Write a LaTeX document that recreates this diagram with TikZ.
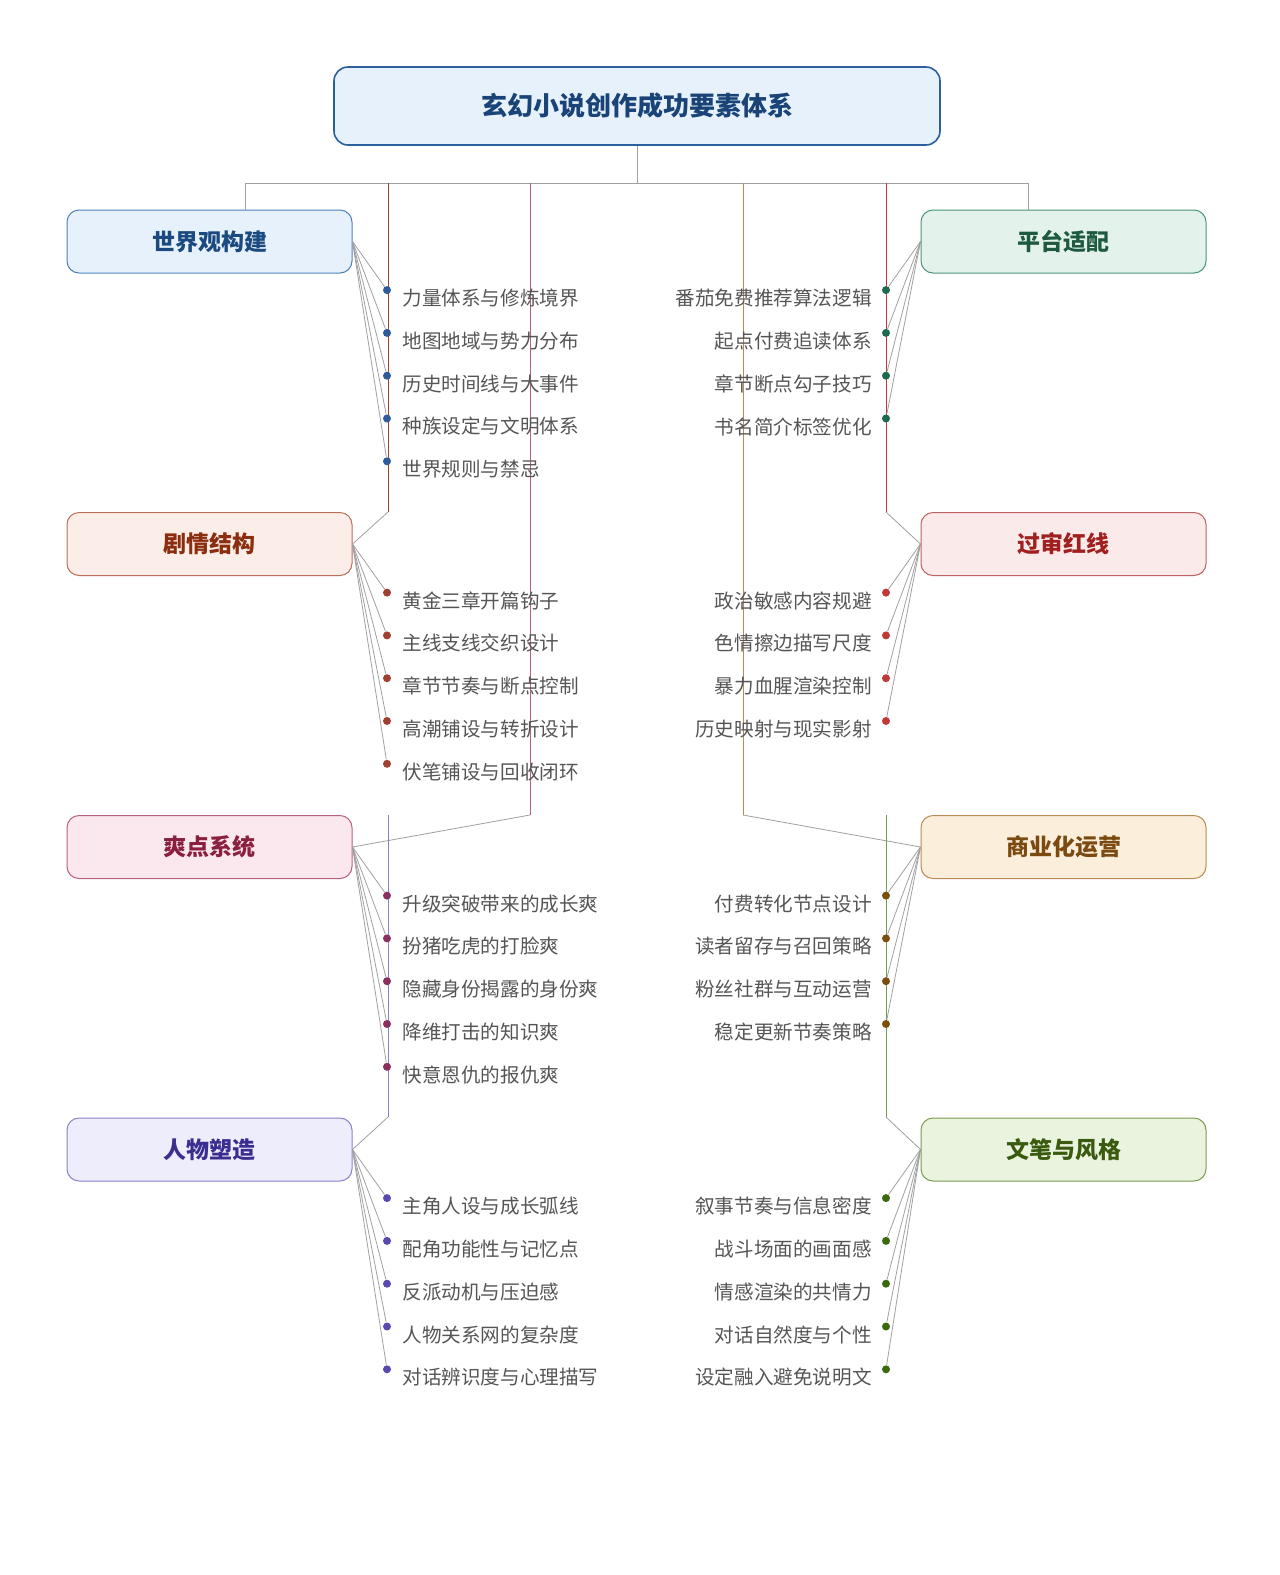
\documentclass[tikz,border=0pt]{standalone}
\usepackage{fontspec}
\setmainfont{Noto Sans CJK SC}
\usetikzlibrary{positioning}
\definecolor{lnk}{HTML}{A0A0A0}
\definecolor{txt}{HTML}{555555}
\definecolor{rootfill}{HTML}{E6F1FB}
\definecolor{rootdraw}{HTML}{2B5F9E}
\definecolor{roottext}{HTML}{1A4478}
% category colours: fill, draw, text, dot
\definecolor{aF}{HTML}{E6F1FB}\definecolor{aD}{HTML}{4F80B8}\definecolor{aT}{HTML}{1A4A80}\definecolor{aP}{HTML}{2E5C9A}
\definecolor{bF}{HTML}{E3F3EC}\definecolor{bD}{HTML}{4A9477}\definecolor{bT}{HTML}{1E5A40}\definecolor{bP}{HTML}{1E6A50}
\definecolor{cF}{HTML}{FBEEE8}\definecolor{cD}{HTML}{B8705A}\definecolor{cT}{HTML}{8B2E10}\definecolor{cP}{HTML}{A04030}
\definecolor{dF}{HTML}{FBEAEA}\definecolor{dD}{HTML}{C06060}\definecolor{dT}{HTML}{A02020}\definecolor{dP}{HTML}{C03A3A}
\definecolor{eF}{HTML}{FBE8EE}\definecolor{eD}{HTML}{B86080}\definecolor{eT}{HTML}{8A2040}\definecolor{eP}{HTML}{8A3060}
\definecolor{fF}{HTML}{FBEEDB}\definecolor{fD}{HTML}{B88A55}\definecolor{fT}{HTML}{7A4A10}\definecolor{fP}{HTML}{7A5010}
\definecolor{gF}{HTML}{EEEDFB}\definecolor{gD}{HTML}{8A80C8}\definecolor{gT}{HTML}{3A2E90}\definecolor{gP}{HTML}{5A4AB0}
\definecolor{hF}{HTML}{EAF3DE}\definecolor{hD}{HTML}{7A9A50}\definecolor{hT}{HTML}{3A5A10}\definecolor{hP}{HTML}{3A6A10}
\begin{document}
\begin{tikzpicture}[
  x=0.5pt, y=-0.5pt,
  root/.style = {
    draw = rootdraw,
    fill = rootfill,
    text = roottext,
    rectangle,
    rounded corners = 7pt,
    line width = 0.8pt,
    minimum width = 303pt,
    minimum height = 39pt,
    font = \fontsize{13}{15}\selectfont\bfseries,
  },
  cat/.style = {
    draw = #1D,
    fill = #1F,
    text = #1T,
    rectangle,
    rounded corners = 6pt,
    line width = 0.5pt,
    minimum width = 142.5pt,
    minimum height = 31.5pt,
    font = \fontsize{11.5}{13}\selectfont\bfseries,
  },
  dot/.style = {
    circle,
    fill = #1,
    inner sep = 0pt,
    minimum size = 4pt,
  },
  leaf/.style = {
    text = txt,
    inner sep = 0pt,
    font = \fontsize{9.8}{11}\selectfont,
  },
  link/.style = {
    draw = lnk,
    line width = 0.4pt,
  },
  trunk/.style = {
    draw = #1,
    line width = 0.5pt,
  },
]

  \useasboundingbox (0,0) rectangle (1280,1575);

  \node[root] (r) at (637,106) {玄幻小说创作成功要素体系};

  \node[cat=a] (ca) at (209.5,241.5) {世界观构建};
  \node[cat=b] (cb) at (1063.5,241.5) {平台适配};
  \node[cat=c] (cc) at (209.5,544) {剧情结构};
  \node[cat=d] (cd) at (1063.5,544) {过审红线};
  \node[cat=e] (ce) at (209.5,847) {爽点系统};
  \node[cat=f] (cf) at (1063.5,847) {商业化运营};
  \node[cat=g] (cg) at (209.5,1149.5) {人物塑造};
  \node[cat=h] (ch) at (1063.5,1149.5) {文笔与风格};

  % branch points
  \coordinate (j) at (637,183);
  \coordinate (ja) at (245,183);
  \coordinate (jb) at (1028,183);
  \coordinate (jc) at (388,183);
  \coordinate (kc) at (388,512);
  \coordinate (je) at (530,183);
  \coordinate (ke) at (530,815);
  \coordinate (jf) at (743,183);
  \coordinate (kf) at (743,815);
  \coordinate (jd) at (886,183);
  \coordinate (kd) at (886,512);
  \coordinate (jg) at (388,815);
  \coordinate (kg) at (388,1117);
  \coordinate (jh) at (886,815);
  \coordinate (kh) at (886,1117);

  \draw[link] (r.south) -- (j);
  \draw[link] (ja) -- (jb);
  \draw[link] (ja) -- (ja |- ca.north);
  \draw[link] (jb) -- (jb |- cb.north);
  \draw[trunk=cP] (jc) -- (kc);
  \draw[link] (kc) -- (cc.east);
  \draw[trunk=dP] (jd) -- (kd);
  \draw[link] (kd) -- (cd.west);
  \draw[trunk=eD] (je) -- (ke);
  \draw[link] (ke) -- (ce.east);
  \draw[trunk=fD] (jf) -- (kf);
  \draw[link] (kf) -- (cf.west);
  \draw[trunk=gD] (jg) -- (kg);
  \draw[link] (kg) -- (cg.east);
  \draw[trunk=hD] (jh) -- (kh);
  \draw[link] (kh) -- (ch.west);

  % left leaves
  \foreach \c/\y/\list in {a/241.5/{力量体系与修炼境界,地图地域与势力分布,历史时间线与大事件,种族设定与文明体系,世界规则与禁忌},
                           c/544/{黄金三章开篇钩子,主线支线交织设计,章节节奏与断点控制,高潮铺设与转折设计,伏笔铺设与回收闭环},
                           e/847/{升级突破带来的成长爽,扮猪吃虎的打脸爽,隐藏身份揭露的身份爽,降维打击的知识爽,快意恩仇的报仇爽},
                           g/1149.5/{主角人设与成长弧线,配角功能性与记忆点,反派动机与压迫感,人物关系网的复杂度,对话辨识度与心理描写}}{
    \foreach \t [count=\i] in \list {
      \node[dot=\c P] (p\c\i) at (387,\y+5.8+42.8*\i) {};
      \node[leaf,anchor=west] (l\c\i) at (402,\y+13.8+42.8*\i) {\t};
      \draw[link] (c\c.east) -- (p\c\i);
    }
  }

  % right leaves
  \foreach \c/\y/\list in {b/241.5/{番茄免费推荐算法逻辑,起点付费追读体系,章节断点勾子技巧,书名简介标签优化},
                           d/544/{政治敏感内容规避,色情擦边描写尺度,暴力血腥渲染控制,历史映射与现实影射},
                           f/847/{付费转化节点设计,读者留存与召回策略,粉丝社群与互动运营,稳定更新节奏策略},
                           h/1149.5/{叙事节奏与信息密度,战斗场面的画面感,情感渲染的共情力,对话自然度与个性,设定融入避免说明文}}{
    \foreach \t [count=\i] in \list {
      \node[dot=\c P] (p\c\i) at (886,\y+5.8+42.8*\i) {};
      \node[leaf,anchor=east] (l\c\i) at (872,\y+13.8+42.8*\i) {\t};
      \draw[link] (c\c.west) -- (p\c\i);
    }
  }

\end{tikzpicture}
\end{document}
